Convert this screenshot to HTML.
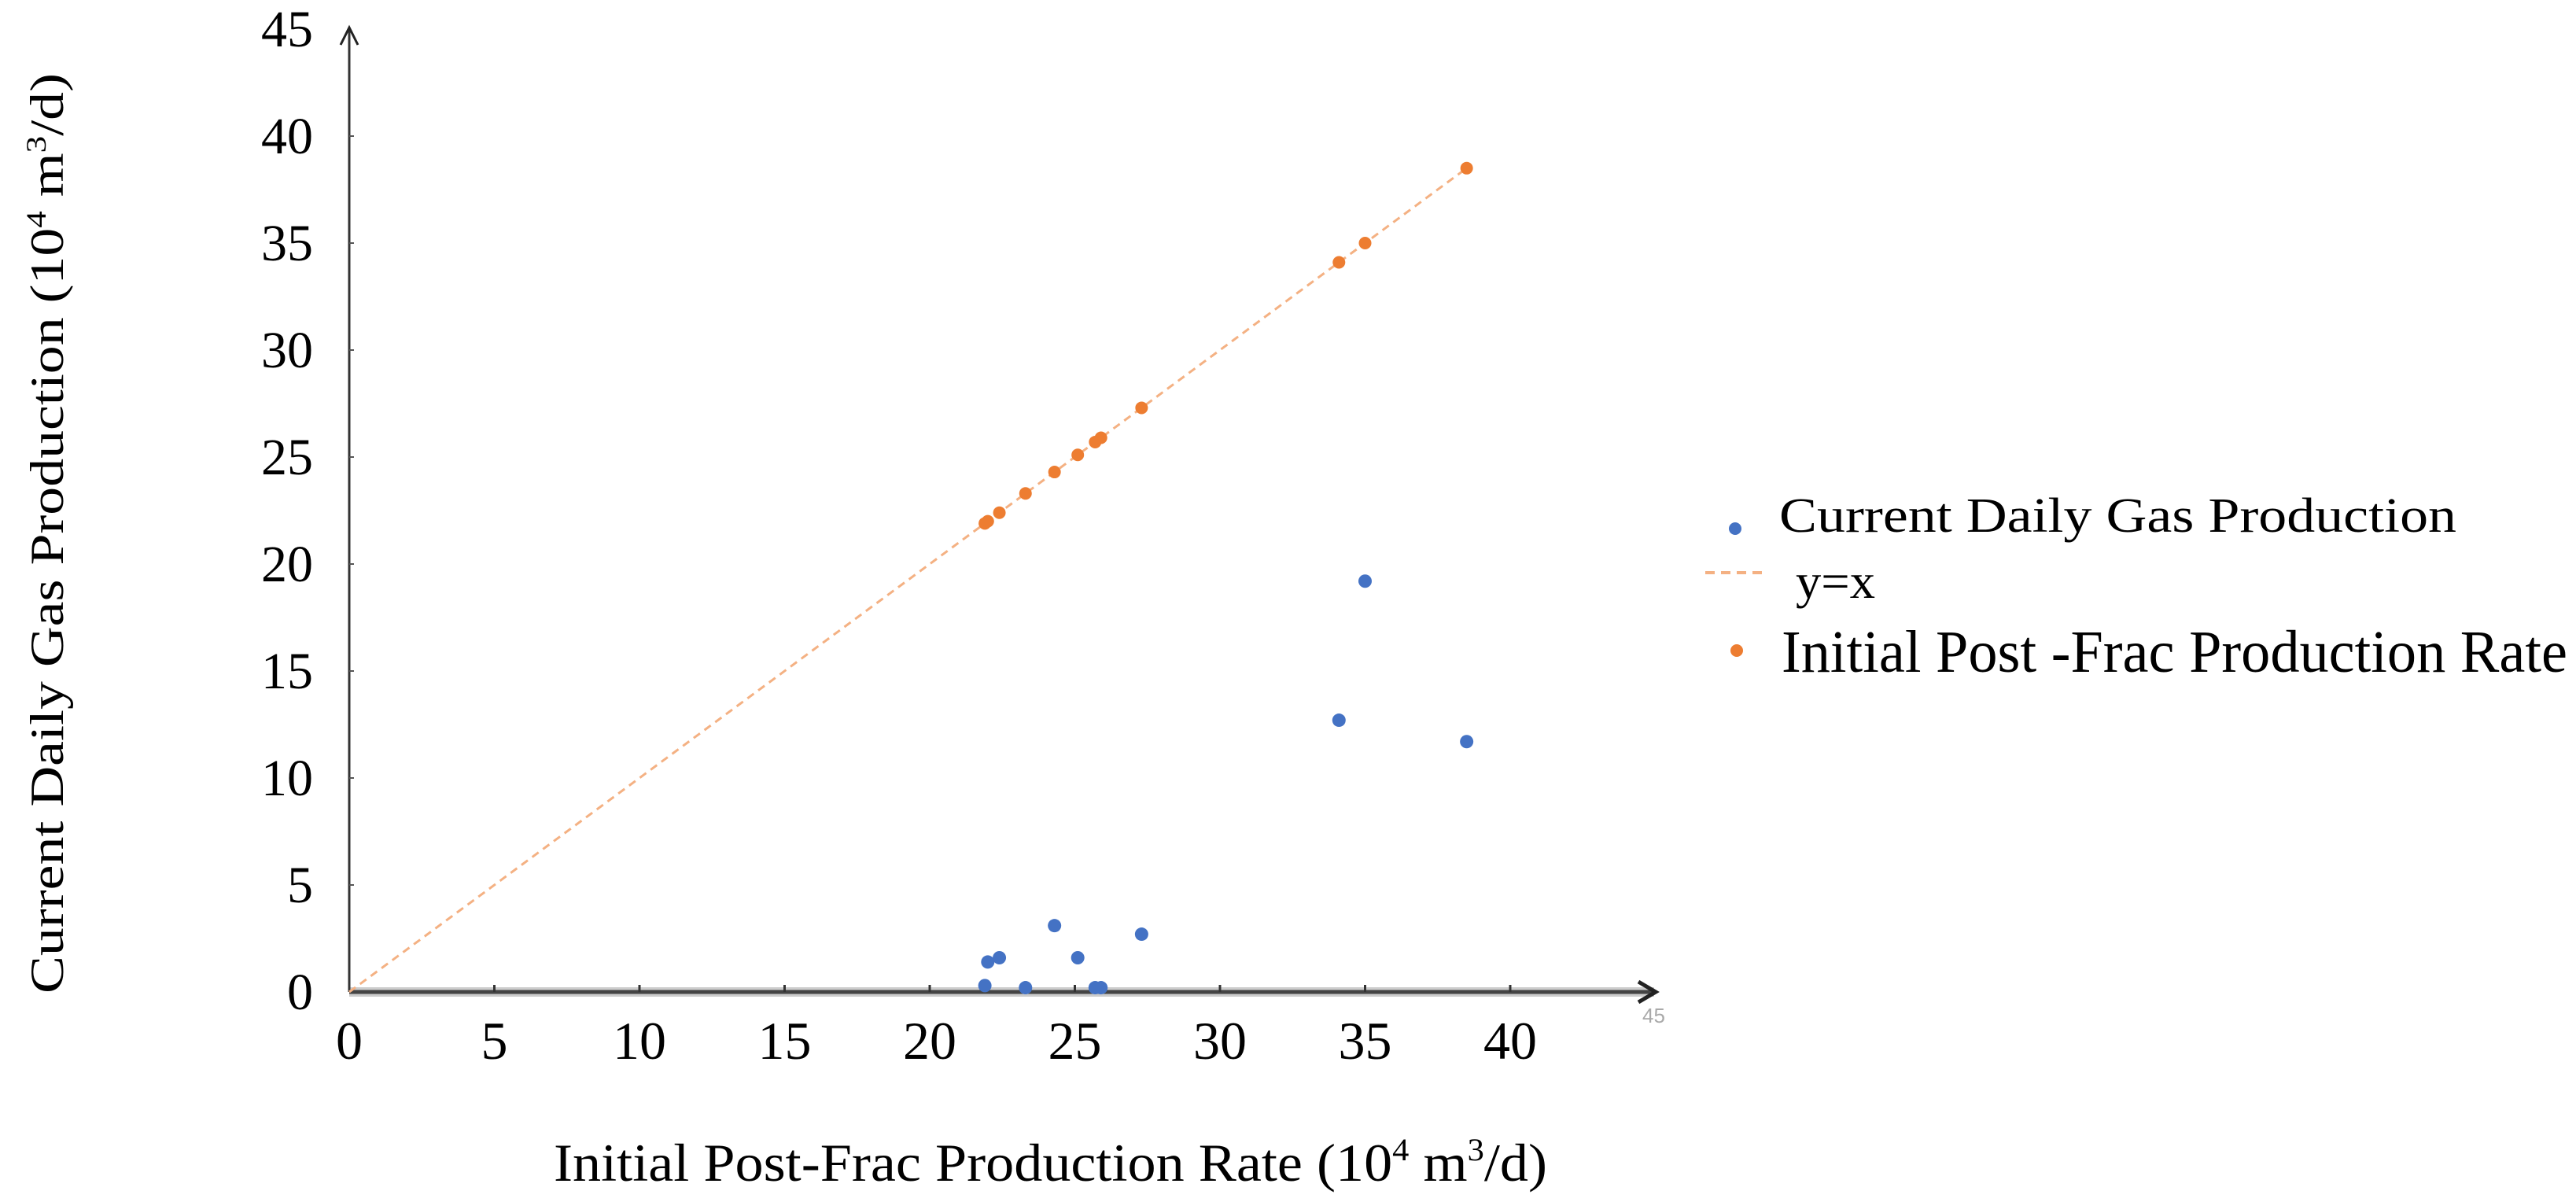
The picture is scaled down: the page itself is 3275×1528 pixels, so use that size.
<!DOCTYPE html>
<html><head><meta charset="utf-8"><style>
html,body{margin:0;padding:0;background:#fff;}
svg{display:block;font-family:"Liberation Serif",serif;}
</style></head><body>
<svg id="chart" width="3275" height="1528" viewBox="0 0 3275 1528" xmlns="http://www.w3.org/2000/svg">
<g id="axes"></g>
<g id="marks"></g>
<text transform="translate(80,678) rotate(-90)" text-anchor="middle" font-size="60" textLength="1170" lengthAdjust="spacingAndGlyphs">Current Daily Gas Production  (10<tspan font-size="36" dy="-22">4</tspan><tspan dy="22"> m</tspan><tspan font-size="36" dy="-22">3</tspan><tspan dy="22">/d)</tspan></text>
<text x="704" y="1501" font-size="68" textLength="1263" lengthAdjust="spacingAndGlyphs">Initial Post-Frac Production Rate (10<tspan font-size="40" dy="-26">4</tspan><tspan dy="26"> m</tspan><tspan font-size="40" dy="-26">3</tspan><tspan dy="26">/d)</tspan></text>
<text x="2088" y="1300" font-size="26" fill="#aaa" font-family="Liberation Sans, sans-serif">45</text>
<g>
 <circle cx="2206" cy="672" r="8" fill="#4472c4"/>
 <text x="2262" y="676" font-size="62" textLength="861" lengthAdjust="spacingAndGlyphs">Current Daily Gas Production</text>
 <line x1="2168" y1="728" x2="2247" y2="728" stroke="#f4b183" stroke-width="4" stroke-dasharray="12,8"/>
 <text x="2283" y="760" font-size="62" textLength="101" lengthAdjust="spacingAndGlyphs">y=x</text>
 <circle cx="2208" cy="827" r="8" fill="#ed7d31"/>
 <text x="2265" y="854" font-size="76" textLength="999" lengthAdjust="spacingAndGlyphs">Initial Post -Frac Production Rate</text>
</g>
</svg>
<script>
const initialRate = [21.9, 22.0, 22.4, 23.3, 24.3, 25.1, 25.7, 25.9, 27.3, 34.1, 35.0, 38.5];
const currentProd = [0.3, 1.4, 1.6, 0.2, 3.1, 1.6, 0.2, 0.2, 2.7, 12.7, 19.2, 11.7];
const xTicks = [0, 5, 10, 15, 20, 25, 30, 35, 40];
const yTicks = [0, 5, 10, 15, 20, 25, 30, 35, 40, 45];
const X0 = 444, XS = 36.9, Y0 = 1261, YS = 27.2;
const sx = v => X0 + v * XS;
const sy = v => Y0 - v * YS;
const NS = 'http://www.w3.org/2000/svg';
function mk(tag, attrs, parent) {
  const e = document.createElementNS(NS, tag);
  for (const k in attrs) e.setAttribute(k, attrs[k]);
  parent.appendChild(e);
  return e;
}
const axes = document.getElementById('axes');
const marks = document.getElementById('marks');
let e;
e = mk('line', {x1: X0, y1: Y0, x2: 2103, y2: Y0, stroke: '#ccc', 'stroke-width': 12}, axes);


e = mk('line', {x1: X0, y1: Y0, x2: 2103, y2: Y0, stroke: '#444', 'stroke-width': 5}, axes);


e = mk('polyline', {points: '2083,1248 2105,1261 2083,1274', fill: 'none', stroke: '#222', 'stroke-width': 5}, axes);


e = mk('line', {x1: X0, y1: Y0, x2: X0, y2: 35, stroke: '#333', 'stroke-width': 3}, axes);


e = mk('polyline', {points: '433,57 444,35 455,57', fill: 'none', stroke: '#222', 'stroke-width': 3}, axes);


xTicks.forEach(t => {
  const tk = mk('line', {x1: sx(t), y1: Y0, x2: sx(t), y2: Y0 - 9, stroke: '#333', 'stroke-width': 3}, axes);
  
  
  const lb = mk('text', {x: sx(t), y: 1346, 'text-anchor': 'middle', 'font-size': 68}, axes);
  lb.textContent = t;
  
  
});
yTicks.forEach(t => {
  if (t > 0 && t < 45) {
    const tk = mk('line', {x1: X0, y1: sy(t), x2: X0 + 6, y2: sy(t), stroke: '#555', 'stroke-width': 2}, axes);
    
    
  }
  const lb = mk('text', {x: 398, y: sy(t) + 22, 'text-anchor': 'end', 'font-size': 66}, axes);
  lb.textContent = t;
  
  
});
const maxX = Math.max(...initialRate);
e = mk('line', {x1: sx(0), y1: sy(0), x2: sx(maxX), y2: sy(maxX), stroke: '#f4b183', 'stroke-width': 3, 'stroke-dasharray': '10,7'}, marks);


initialRate.forEach((x, i) => {
  const o = mk('circle', {cx: sx(x), cy: sy(x), r: 8, fill: '#ed7d31'}, marks);
  
  
  const b = mk('circle', {cx: sx(x), cy: sy(currentProd[i]), r: 8.5, fill: '#4472c4'}, marks);
  
  
});
</script>
</body></html>
